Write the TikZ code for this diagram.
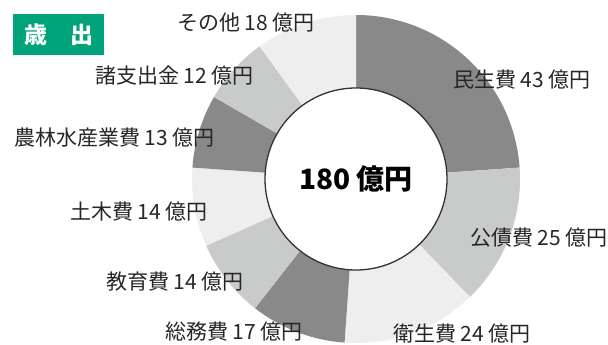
\documentclass[tikz,border=0pt]{standalone}
\usepackage{fontspec}
\setmainfont{Noto Sans CJK JP}
\usetikzlibrary{calc}
\definecolor{darkslice}{HTML}{898989}
\definecolor{midslice}{HTML}{C9CACA}
\definecolor{lightslice}{HTML}{EEEEEE}
\definecolor{badgegreen}{HTML}{00A37A}

\begin{document}
\begin{tikzpicture}[x=1pt,y=1pt,
    slicelabel/.style={anchor=west, inner sep=0pt, text=black!85, font=\fontsize{21}{21}\selectfont}]
  \useasboundingbox (0,0) rectangle (608,345);
  % set up the centre of the ring
  \coordinate (O) at (356,166);
  % draw the slices, clockwise from the top
  \foreach \a/\b/\c in {90/4/darkslice, 4/-46/midslice, -46/-94/lightslice,
      -94/-128/darkslice, -128/-156/midslice, -156/-184/lightslice,
      -184/-210/darkslice, -210/-234/midslice, -234/-270/lightslice}
    \fill[\c] (O) -- ++(\a:164pt) arc[start angle=\a, end angle=\b, radius=164pt] -- cycle;
  % draw the hole with the total
  \node[circle, draw=black!80, line width=1.3pt, fill=white, minimum size=182pt, inner sep=0pt,
    font=\fontsize{28}{28}\selectfont\bfseries] (total) at (O) {180 億円};
  % draw the title badge
  \node[fill=badgegreen, minimum width=91pt, minimum height=41pt, text=white,
    font=\fontsize{23}{23}\selectfont\bfseries] (badge) at (58.5,310.5) {歳　出};
  % label the slices
  \node[slicelabel] (welfare) at (453,265) {民生費 43 億円};
  \node[slicelabel] (debt) at (470,107) {公債費 25 億円};
  \node[slicelabel] (health) at (393,11) {衛生費 24 億円};
  \node[slicelabel] (general) at (165,13) {総務費 17 億円};
  \node[slicelabel] (education) at (106,63) {教育費 14 億円};
  \node[slicelabel] (civil) at (70,133) {土木費 14 億円};
  \node[slicelabel] (agri) at (14,207) {農林水産業費 13 億円};
  \node[slicelabel] (misc) at (95,269) {諸支出金 12 億円};
  \node[slicelabel] (other) at (177,322) {その他 18 億円};
\end{tikzpicture}
\end{document}
